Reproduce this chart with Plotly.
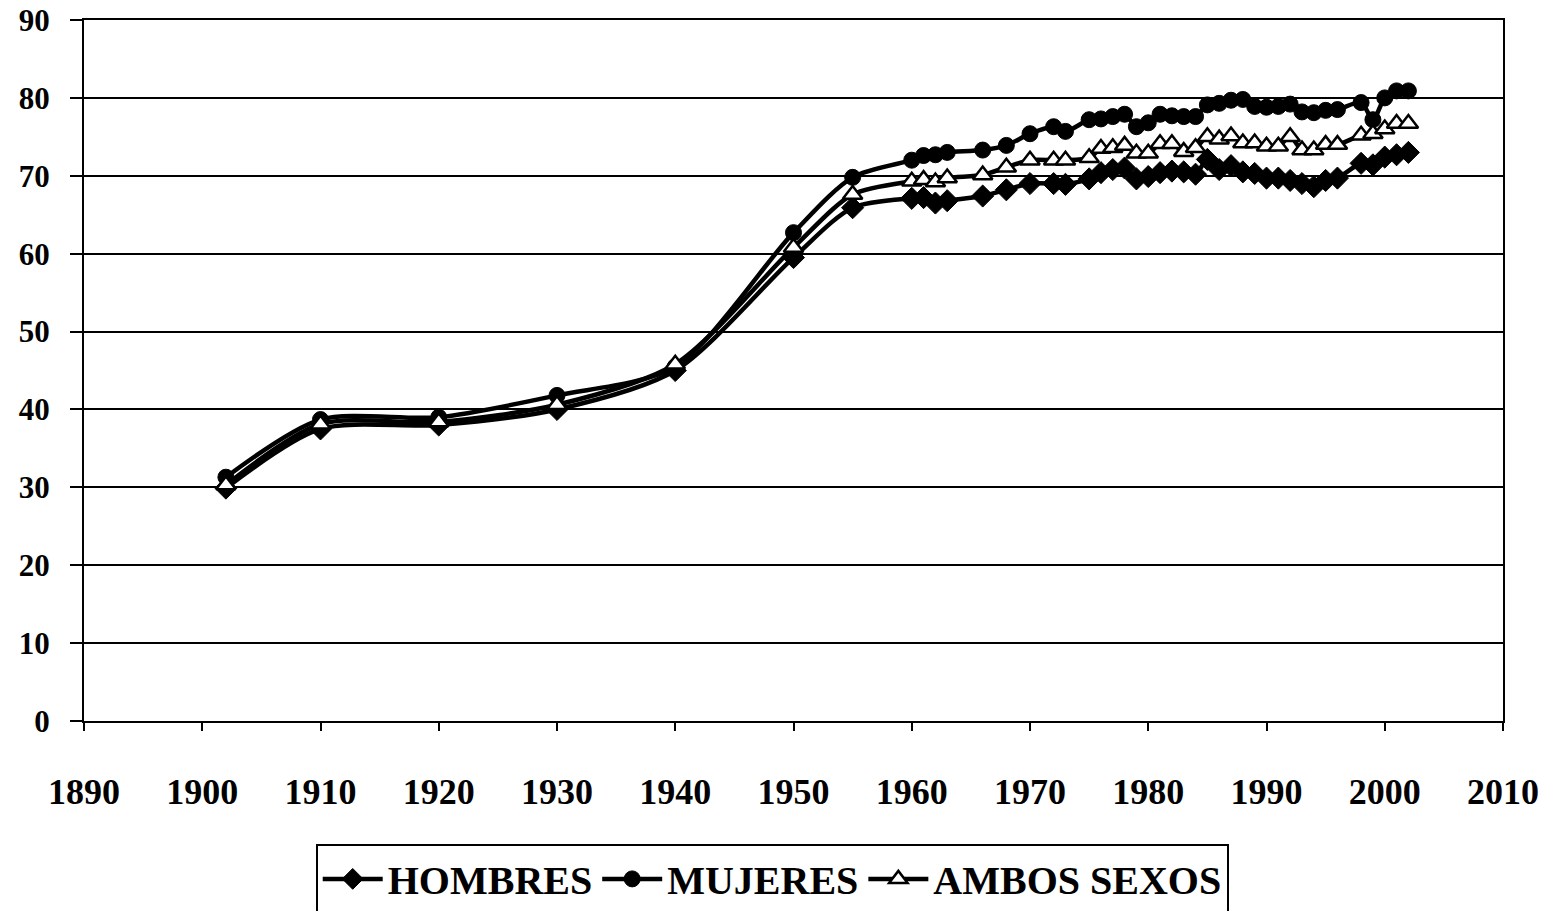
import plotly.graph_objects as go

years = [1902, 1910, 1920, 1930, 1940, 1950, 1955, 1960, 1961, 1962, 1963, 1966, 1968,
         1970, 1972, 1973, 1975, 1976, 1977, 1978, 1979, 1980, 1981, 1982, 1983, 1984,
         1985, 1986, 1987, 1988, 1989, 1990, 1991, 1992, 1993, 1994, 1995, 1996,
         1998, 1999, 2000, 2001, 2002]

hombres = [29.9, 37.5, 38.0, 40.0, 45.0, 59.5, 65.9, 67.1, 67.2, 66.5, 66.8, 67.4, 68.2,
           69.0, 69.0, 68.9, 69.6, 70.4, 70.8, 71.0, 69.6, 69.9, 70.4, 70.6, 70.5, 70.2,
           72.1, 70.8, 71.3, 70.5, 70.3, 69.7, 69.7, 69.4, 69.0, 68.6, 69.4, 69.7,
           71.6, 71.4, 72.4, 72.7, 73.0]

mujeres = [31.3, 38.7, 39.0, 41.8, 45.5, 62.7, 69.8, 72.0, 72.6, 72.7, 73.0, 73.3, 73.9,
           75.4, 76.3, 75.7, 77.2, 77.3, 77.6, 77.9, 76.3, 76.8, 77.9, 77.7, 77.6, 77.6,
           79.1, 79.3, 79.7, 79.8, 78.9, 78.8, 78.9, 79.2, 78.2, 78.1, 78.4, 78.5,
           79.4, 77.2, 80.0, 80.9, 80.9]

ambos = [30.3, 38.1, 38.4, 40.6, 45.8, 60.8, 67.6, 69.3, 69.5, 69.2, 69.7, 70.1, 71.1,
         72.0, 72.0, 72.0, 72.3, 73.5, 73.6, 73.9, 72.9, 72.9, 74.1, 74.1, 73.1, 73.6,
         75.0, 74.7, 75.1, 74.2, 74.2, 73.8, 73.8, 75.0, 73.3, 73.3, 74.0, 74.0,
         75.2, 75.4, 76.0, 76.7, 76.7]

x_ticks = list(range(1890, 2011, 10))
y_ticks = list(range(0, 91, 10))

FONT = "Liberation Serif, Times New Roman, serif"

fig = go.Figure()
fig.add_trace(go.Scatter(
    x=years, y=hombres, name="HOMBRES", mode="lines+markers",
    line=dict(color="black", width=4.5, shape="spline", smoothing=0.8),
    marker=dict(symbol="diamond", size=17, color="black", line=dict(color="black", width=1))))
fig.add_trace(go.Scatter(
    x=years, y=mujeres, name="MUJERES", mode="lines+markers",
    line=dict(color="black", width=4.5, shape="spline", smoothing=0.8),
    marker=dict(symbol="circle", size=16, color="black", line=dict(color="black", width=1))))
fig.add_trace(go.Scatter(
    x=years, y=ambos, name="AMBOS SEXOS", mode="lines+markers",
    line=dict(color="black", width=4.5, shape="spline", smoothing=0.8),
    marker=dict(symbol="triangle-up", size=17, color="white", line=dict(color="black", width=2.5))))

fig.update_layout(
    width=1551, height=911,
    margin=dict(l=76, r=56, t=12, b=198, autoexpand=False),
    paper_bgcolor="white", plot_bgcolor="white",
    font=dict(family=FONT, color="black"),
    showlegend=True,
    legend=dict(
        orientation="h", x=0.485, xanchor="center", y=-0.176, yanchor="top",
        font=dict(family=FONT, size=40, color="black", weight="bold"),
        bordercolor="black", borderwidth=2, bgcolor="white",
        itemwidth=60, tracegroupgap=0,
    ),
)

fig.update_xaxes(
    range=[1890, 2010], tickmode="array", tickvals=x_ticks,
    ticktext=[str(v) for v in x_ticks], automargin=False,
    ticklabeloverflow="allow",
    showgrid=False, zeroline=False,
    showline=True, linecolor="black", linewidth=2, mirror=True,
    ticks="outside", ticklen=8, tickwidth=2, tickcolor="black",
    ticklabelstandoff=30,
    tickfont=dict(family=FONT, size=36, color="black", weight="bold"),
)
fig.update_yaxes(
    range=[0, 90], tickmode="array", tickvals=y_ticks,
    ticktext=[str(v) for v in y_ticks], automargin=False,
    ticklabeloverflow="allow",
    showgrid=True, gridcolor="black", gridwidth=2, zeroline=False,
    showline=True, linecolor="black", linewidth=2, mirror=True,
    ticks="outside", ticklen=12, tickwidth=2, tickcolor="black",
    ticklabelstandoff=14,
    tickfont=dict(family=FONT, size=31, color="black", weight="bold"),
)

fig.write_html("out.html")
